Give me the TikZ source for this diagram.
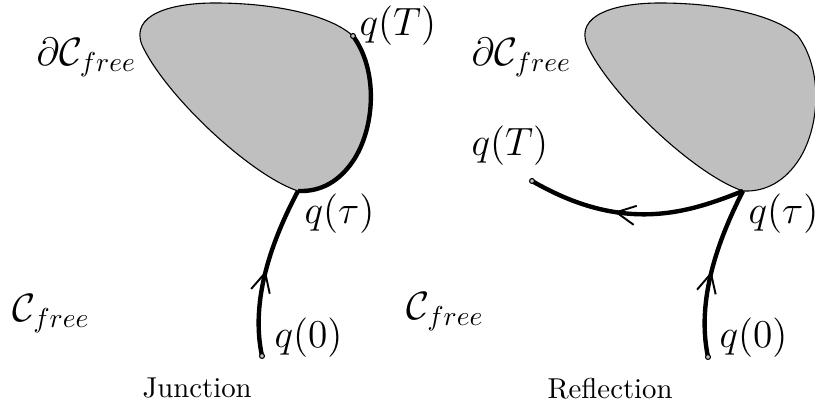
\documentclass[tikz,border=0pt]{standalone}
\usepackage{amsmath,amssymb}
\usepackage{tikz}
\usetikzlibrary{arrows.meta,decorations.markings}

\begin{document}
\begin{tikzpicture}[x=0.365pt,y=-0.365pt,
  blob/.style={fill=gray!50,draw,line width=0.4pt},
  traj/.style={line width=1.6pt},
  pt/.style={draw,fill=gray!50,line width=0.4pt},
  lbl/.style={font=\fontsize{14}{17}\selectfont,inner sep=0pt,anchor=base west},
  captext/.style={font=\fontsize{10.5}{12}\selectfont,inner sep=0pt,anchor=base west},
  flow/.style={postaction={decorate},decoration={markings,
    mark=at position #1 with {\arrow{Straight Barb[length=7pt,width=7pt,line width=0.7pt]}}}}]
  \useasboundingbox (0,0) rectangle (815,410);
  % obstacle, same in both panels
  \foreach \dx/\p in {0/a,445/b}{
    \begin{scope}[shift={(\dx,0)}]
      \coordinate (qT\p) at (353,36);
      \coordinate (tau\p) at (298,191);
      \path[blob] (tau\p) .. controls (250,175) and (165,95) .. (142,45)
        .. controls (130,15) and (170,3) .. (215,3)
        .. controls (275,3) and (330,15) .. (qT\p)
        .. controls (378,70) and (375,125) .. (355,158)
        .. controls (340,182) and (320,192) .. cycle;
    \end{scope}}
  % junction
  \coordinate (q0a) at (262,356);
  \draw[traj] (qTa) .. controls (378,70) and (375,125) .. (355,158)
    .. controls (340,182) and (320,192) .. (taua);
  \draw[traj,flow=0.5] (q0a) .. controls (250,300) and (272,240) .. (taua);
  \draw[pt] (qTa) circle[radius=0.9pt];
  \draw[pt] (q0a) circle[radius=0.9pt];
  % reflection
  \coordinate (q0b) at (708,357);
  \coordinate (qTr) at (532,181);
  \draw[traj,flow=0.5] (q0b) .. controls (696,300) and (718,240) .. (taub);
  \draw[traj,flow=0.6] (taub) .. controls (690,212) and (625,235) .. (qTr);
  \draw[pt] (qTr) circle[radius=0.9pt];
  \draw[pt] (q0b) circle[radius=0.9pt];
  % labels
  \node[lbl] (dCa) at (36,66) {$\partial\mathcal{C}_{free}$};
  \node[lbl] (lqTa) at (359,36) {$q(T)$};
  \node[lbl] (ltaua) at (304,224) {$q(\tau)$};
  \node[lbl] (Ca) at (12,322) {$\mathcal{C}_{free}$};
  \node[lbl] (lq0a) at (274,348) {$q(0)$};
  \node[captext] (capa) at (142,398) {Junction};
  \node[lbl] (dCb) at (471,66) {$\partial\mathcal{C}_{free}$};
  \node[lbl] (lqTb) at (471,156) {$q(T)$};
  \node[lbl] (ltaub) at (748,224) {$q(\tau)$};
  \node[lbl] (Cb) at (406,320) {$\mathcal{C}_{free}$};
  \node[lbl] (lq0b) at (719,348) {$q(0)$};
  \node[captext] (capb) at (547,399) {Reflection};
\end{tikzpicture}
\end{document}
